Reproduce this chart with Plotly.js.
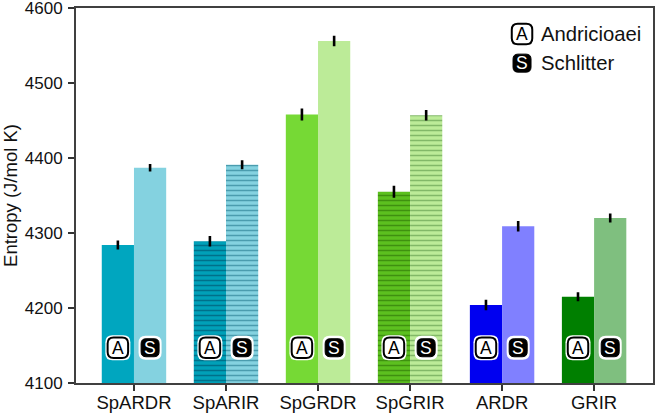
<!DOCTYPE html>
<html><head><meta charset="utf-8">
<script src="https://cdn.plot.ly/plotly-3.0.1.min.js"></script>
<style>html,body{margin:0;padding:0;background:#fff}</style></head>
<body><div id="chart" style="width:658px;height:418px"></div>
<script>
const categories = ["SpARDR","SpARIR","SpGRDR","SpGRIR","ARDR","GRIR"];
const andricioaei = [4284,4289,4458,4355,4204,4215];
const schlitter = [4387,4391,4556,4457,4309,4320];
const andricioaeiErr = [6,7,8,8,7,6];
const schlitterErr = [5,6,7,7,7,6];
const andricioaeiColors = ["#00a6bf","#00a0b8","#76d935","#5cc01f","#0000f0","#007f00"];
const schlitterColors = ["#84d2e0","#84d2e0","#bceb98","#bceb98","#8080ff","#7fbf7f"];
const hatched = [false,true,false,true,false,false];
const andricioaeiHatch = [null,"#00708a",null,"#3f9010",null,null];
const schlitterHatch = [null,"#4a9cae",null,"#82b868",null,null];
const xs = categories.map((_, i) => i);
const barW = 0.35;
const badgeY = 4147;

function rr(w,h,r){
  const a=w/2,b=h/2;
  return `M${-a+r},${-b} L${a-r},${-b} Q${a},${-b} ${a},${-b+r} L${a},${b-r} Q${a},${b} ${a-r},${b} L${-a+r},${b} Q${-a},${b} ${-a},${b-r} L${-a},${-b+r} Q${-a},${-b} ${-a+r},${-b} Z`;
}
function badge(xa,ya,xref,yref,kind,halo){
  const out=[];
  const base={type:"path",xref,yref,xsizemode:"pixel",ysizemode:"pixel",xanchor:xa,yanchor:ya,layer:"above"};
  if(kind==="A"){
    if(halo) out.push({...base,path:rr(25,25,7),fillcolor:"#ffffff",line:{width:0}});
    out.push({...base,path:rr(20.5,20.5,6),fillcolor:"#ffffff",line:{color:"#000000",width:2}});
  } else {
    if(halo) out.push({...base,path:rr(23,24,7),fillcolor:"#ffffff",line:{width:0}});
    out.push({...base,path:rr(18,18,5),fillcolor:"#000000",line:{color:"#000000",width:1}});
  }
  return out;
}
const shapes=[], annotations=[];
const font=(c,s)=>({family:"Liberation Sans, Arial, sans-serif",color:c,size:s});
const note=(x,y,xref,yref,text,f,xanchor)=>({x,y,xref,yref,text,font:f,showarrow:false,xanchor:xanchor||"center",yanchor:"middle"});
xs.forEach(x=>{
  shapes.push(...badge(x-barW/2,badgeY,"x","y","A",true));
  shapes.push(...badge(x+barW/2,badgeY,"x","y","S",true));
  annotations.push(note(x-barW/2,badgeY,"x","y","A",font("#000",17.5)));
  annotations.push(note(x+barW/2,badgeY,"x","y","S",font("#fff",17.5)));
});
const legX=0.773, legTextX=0.802;
shapes.push(...badge(legX,0.931,"paper","paper","A",false));
shapes.push(...badge(legX,0.853,"paper","paper","S",false));
annotations.push(note(legX,0.931,"paper","paper","A",font("#000",17.5)));
annotations.push(note(legX,0.853,"paper","paper","S",font("#fff",17.5)));
annotations.push(note(legTextX,0.931,"paper","paper","Andricioaei",font("#111",20.3),"left"));
annotations.push(note(legTextX,0.853,"paper","paper","Schlitter",font("#111",20.3),"left"));

const errStyle={type:"data",color:"#000",thickness:2.6,width:0};
function seriesTraces(name,vals,errs,colors,hatch){
  const common={type:"bar",x:xs,name,showlegend:false,offsetgroup:name,alignmentgroup:"all",error_y:{...errStyle,array:errs}};
  const out=[{...common,y:vals.map((v,i)=>hatched[i]?null:v),marker:{color:colors,line:{width:0}}}];
  xs.forEach(i=>{
    if(hatched[i]) out.push({...common,y:vals.map((v,j)=>j===i?v:null),
      marker:{color:colors[i],line:{width:0},pattern:{shape:"-",fgcolor:hatch[i],bgcolor:colors[i],size:5,solidity:0.3,fillmode:"overlay",fgopacity:1}}});
  });
  return out;
}
const traces=[...seriesTraces("Andricioaei",andricioaei,andricioaeiErr,andricioaeiColors,andricioaeiHatch),
              ...seriesTraces("Schlitter",schlitter,schlitterErr,schlitterColors,schlitterHatch)];
const axisLine={showline:true,linecolor:"#404040",linewidth:2,mirror:true,showgrid:false,zeroline:false,ticks:"outside",tickcolor:"#333",tickwidth:1.5,ticklen:6};
const layout={
 width:658,height:418,margin:{l:76,r:5,t:8,b:35},paper_bgcolor:"#fff",plot_bgcolor:"#fff",
 barmode:"group",bargap:0.3,bargroupgap:0,
 xaxis:{...axisLine,tickfont:font("#111",18.5),ticklabelstandoff:-4,range:[-0.63,5.64],tickmode:"array",tickvals:xs,ticktext:categories},
 yaxis:{...axisLine,tickfont:font("#111",17),ticklabelstandoff:2,ticklabeloverflow:"allow",range:[4100,4600],tickmode:"array",tickvals:[4100,4200,4300,4400,4500,4600],
   title:{text:"Entropy (J/mol K)",font:font("#111",18.5),standoff:8}},
 shapes,annotations
};
Plotly.newPlot("chart",traces,layout,{displayModeBar:false,staticPlot:true});
</script></body></html>
